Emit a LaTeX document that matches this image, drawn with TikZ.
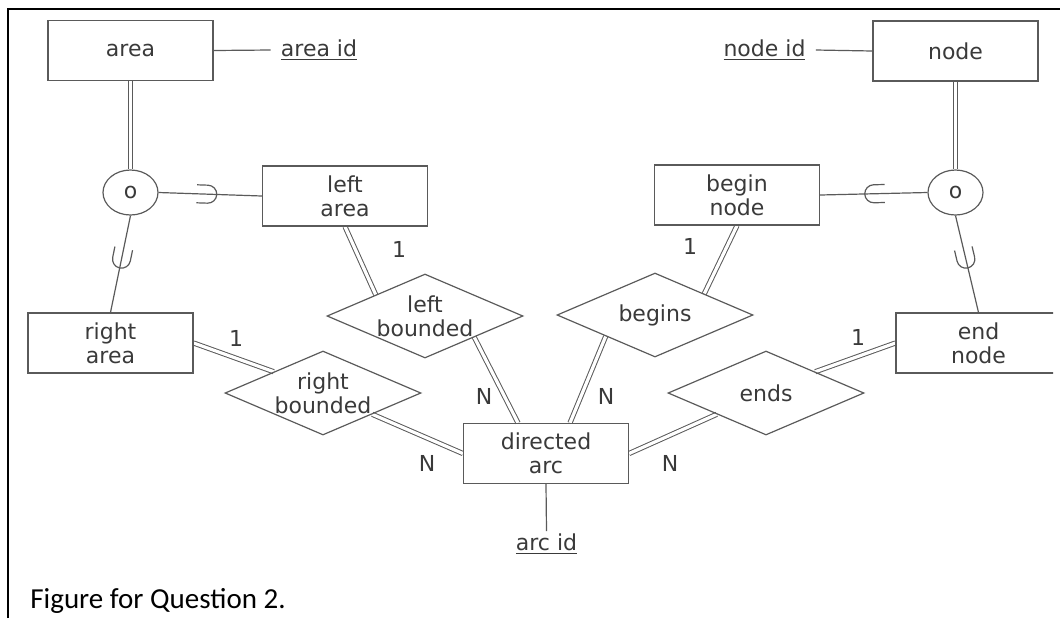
\documentclass[tikz,border=0pt]{standalone}
\usepackage{fontspec}
\setmainfont{DejaVu Sans}
\newfontfamily\capfont{Carlito}
\usetikzlibrary{shapes.geometric, backgrounds}
\definecolor{erline}{HTML}{5A5A5A}
\definecolor{ertext}{HTML}{3A3A3A}

\begin{document}
\begin{tikzpicture}[x=0.5pt, y=-0.5pt,
  font=\fontsize{11}{12}\selectfont, text=ertext,
  entity/.style={rectangle, draw=erline, line width=0.6pt,
                 minimum width=82.5pt, minimum height=30pt,
                 align=center, inner sep=0pt},
  relship/.style={diamond, draw=erline, line width=0.6pt, aspect=2.3,
                  minimum width=98pt, minimum height=42pt,
                  inner sep=-1.5pt, align=center},
  disjoint/.style={ellipse, draw=erline, line width=0.6pt,
                   minimum width=27.5pt, minimum height=22.5pt, inner sep=0pt},
  keyattr/.style={inner xsep=5pt, inner ysep=1pt},
  link/.style={draw=erline, line width=0.6pt},
  total/.style={draw=erline, line width=0.5pt, double=white, double distance=1.6pt},
  card/.style={inner sep=0pt},
  subset/.pic={\draw[link] (-11,-9) -- (0,-9) arc[start angle=-90, end angle=90, radius=9] -- (-11,9);}
]
\useasboundingbox (0,0) rectangle (1060,618);
% cell border
\draw[line width=1.3pt] (8,618) -- (8,9) -- (1060,9);

% entity types
\node[entity] (area) at (130.5,50.5) {area};
\node[entity] (nodeent) at (955.5,51) {node};
\node[entity] (leftarea) at (345,196) {left\\area};
\node[entity] (beginnode) at (737,195) {begin\\node};
\node[entity] (rightarea) at (110.5,343) {right\\area};
\begin{scope}
  \clip (0,0) rectangle (1053,618);
  \node[entity] (endnode) at (978.5,343) {end\\node};
\end{scope}
\node[entity] (arc) at (546,453.5) {directed\\arc};

% key attributes
\node[keyattr] (areaid) at (319,50) {\underline{area id}};
\node[keyattr] (nodeid) at (764.5,50) {\underline{node id}};
\node[keyattr] (arcid) at (546.5,544) {\underline{arc id}};

% specialisation circles
\node[disjoint] (areadisj) at (130.5,192.5) {o};
\node[disjoint] (nodedisj) at (955.5,192.5) {o};

% relationship types
\node[relship] (leftbnd) at (425,316) {left\\bounded};
\node[relship] (rightbnd) at (323,393) {right\\bounded};
\node[relship] (begins) at (655,315) {begins};
\node[relship] (ends) at (766,393) {ends};

% cardinality ratios
\foreach \i/\t/\x/\y in {1/1/399/249, 2/1/236/338, 3/N/484/396, 4/N/427/463,
                         5/N/606/396, 6/N/670/463, 7/1/690/246, 8/1/858/337} {
  \node[card] (card\i) at (\x,\y) {\t};
}

\begin{scope}[on background layer]
  \draw[link] (area.east) -- (areaid.west);
  \draw[link] (nodeent.west) -- (nodeid.east);
  \draw[link] (arc.south) -- (arcid.north);
  % superclass / subclass
  \draw[total] (area.south) -- (areadisj.north);
  \draw[total] (nodeent.south) -- (nodedisj.north);
  \draw[link] (areadisj.east) -- (leftarea.west)
    pic[pos=.476, sloped, allow upside down] {subset};
  \draw[link] (areadisj.south) -- (rightarea.north)
    pic[pos=.45, sloped, allow upside down] {subset};
  \draw[link] (nodedisj.west) -- (beginnode.east)
    pic[pos=.5, sloped, allow upside down] {subset};
  \draw[link] (nodedisj.south) -- (endnode.north)
    pic[pos=.45, sloped, allow upside down] {subset};
  % relationships
  \draw[total] (leftarea.south) -- (leftbnd.north west);
  \draw[total] (leftbnd.south east) -- ([xshift=-14pt]arc.north);
  \draw[total] (rightarea.east) -- (rightbnd.north west);
  \draw[total] (rightbnd.south east) -- (arc.west);
  \draw[total] (beginnode.south) -- (begins.north east);
  \draw[total] (begins.south west) -- ([xshift=12pt]arc.north);
  \draw[total] (endnode.west) -- (ends.north east);
  \draw[total] (ends.south west) -- (arc.east);
\end{scope}

\node[anchor=base west, inner sep=0pt, text=black,
      font=\capfont\fontsize{14.5}{17}\selectfont] (caption) at (30,608)
  {Figure for Question 2.};
\end{tikzpicture}
\end{document}
